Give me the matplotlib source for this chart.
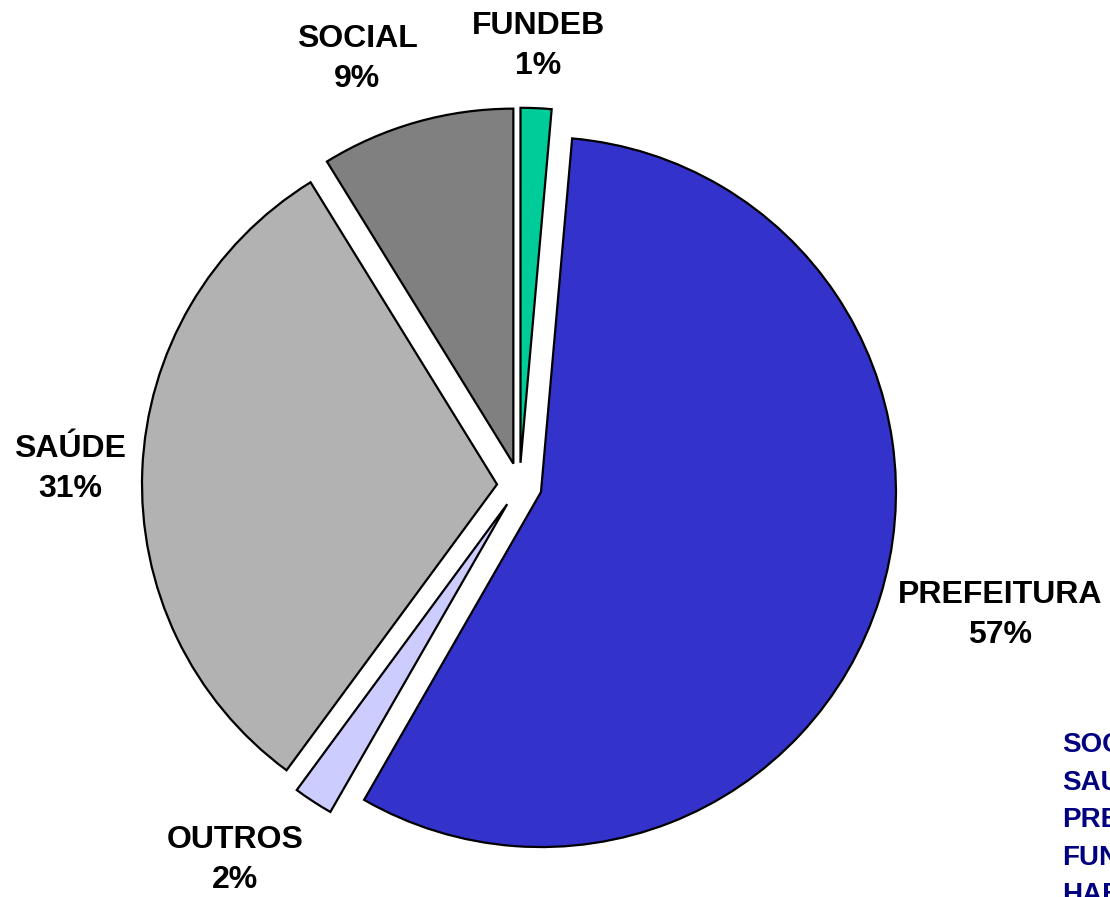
import matplotlib.pyplot as plt

plt.rcParams['font.family'] = ['Liberation Sans', 'DejaVu Sans']

# slice data, clockwise from 12 o'clock
categories = ['FUNDEB', 'PREFEITURA', 'OUTROS', 'SAÚDE', 'SOCIAL']
shares = [1.4, 56.9, 1.8, 31.1, 8.8]
pct_labels = ['1%', '57%', '2%', '31%', '9%']
colors = ['#00CC99', '#3333CC', '#CCCCFF', '#B2B2B2', '#808080']

# legend that runs off the right edge of the picture
legend_names = ['SOCIAL', 'SAUDE', 'PREFEITURA', 'FUNDEB', 'HABITACAO']

W, H = 1110, 897
fig = plt.figure(figsize=(W / 100, H / 100), dpi=100)
ax = fig.add_axes([0, 0, 1, 1])

center = (519.5, H - 485.3)
radius = 355
# explode offsets are in data units (pixels here), not radius fractions
ax.pie(shares, colors=colors, startangle=90, counterclock=False,
       center=center, radius=radius, explode=[22.5] * len(shares),
       wedgeprops=dict(edgecolor='black', linewidth=1.6))

ax.set_xlim(0, W)
ax.set_ylim(0, H)
ax.set_aspect('equal')
ax.axis('off')

# label anchor points (pixels from top-left)
label_pos = [(538, 46), (1000, 615), (235, 860), (70, 469), (357, 59)]
for name, pct, (x, y) in zip(categories, pct_labels, label_pos):
    ax.text(x, H - y, f"{name}\n{pct}", ha='center', va='center',
            fontsize=23, fontweight='bold', linespacing=1.4)

for i, name in enumerate(legend_names):
    ax.text(1062, H - (745 + i * 37.5), name, ha='left', va='center',
            fontsize=20, fontweight='bold', color='#000080', clip_on=False)

fig.savefig('out.png', dpi=100)
